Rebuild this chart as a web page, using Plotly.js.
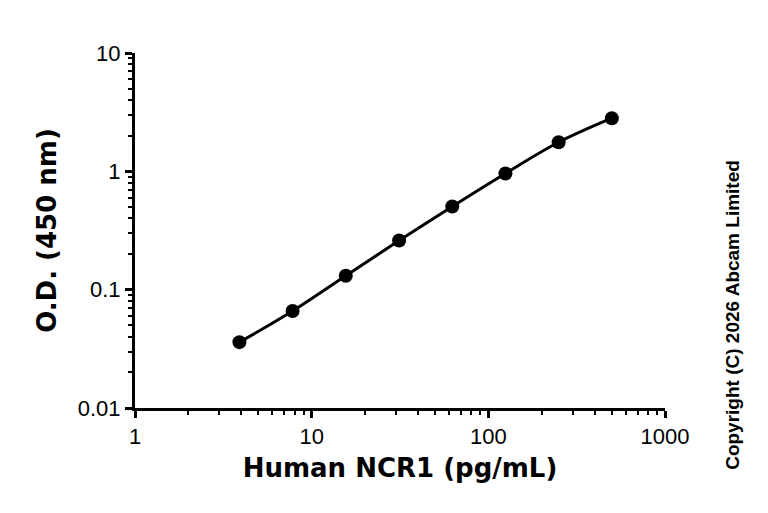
<!DOCTYPE html>
<html>
<head>
<meta charset="utf-8">
<script src="https://cdn.plot.ly/plotly-3.0.1.min.js"></script>
<style>
  body { margin: 0; background: white; }
  #chart { width: 768px; height: 513px; }
</style>
</head>
<body>
<div id="chart"></div>
<script>
var conc = [3.9, 7.8, 15.6, 31.25, 62.5, 125, 250, 500];
var od = [0.036, 0.066, 0.131, 0.26, 0.505, 0.96, 1.76, 2.81];
var xTicks = [1, 10, 100, 1000];
var yTicks = [0.01, 0.1, 1, 10];

var data = [{
  x: conc,
  y: od,
  type: 'scatter',
  mode: 'lines+markers',
  line: { color: 'black', width: 3, shape: 'spline' },
  marker: { color: 'black', size: 14 },
  cliponaxis: false
}];

var axisFont = { family: 'Liberation Sans, Arial', size: 22, color: 'black' };
var titleFont = { family: 'DejaVu Sans', size: 26, color: 'black', weight: 'bold' };

var layout = {
  width: 768,
  height: 513,
  margin: { l: 135, r: 103, t: 53, b: 105 },
  paper_bgcolor: 'white',
  plot_bgcolor: 'white',
  showlegend: false,
  xaxis: {
    type: 'log',
    range: [0, 3],
    tickvals: xTicks,
    ticktext: xTicks.map(String),
    ticks: 'outside',
    ticklen: 7,
    tickwidth: 3,
    tickcolor: 'black',
    showline: true,
    linewidth: 3,
    linecolor: 'black',
    showgrid: false,
    zeroline: false,
    tickfont: axisFont,
    minor: { ticks: 'outside', ticklen: 4, tickwidth: 2, tickcolor: 'black', dtick: 'D1', showgrid: false },
    title: { text: 'Human NCR1 (pg/mL)', font: titleFont, standoff: 11 }
  },
  yaxis: {
    type: 'log',
    range: [-2, 1],
    tickvals: yTicks,
    ticktext: ['0.01', '0.1', '1', '10'],
    ticks: 'outside',
    ticklen: 7,
    tickwidth: 3,
    tickcolor: 'black',
    showline: true,
    linewidth: 3,
    linecolor: 'black',
    showgrid: false,
    zeroline: false,
    tickfont: axisFont,
    minor: { ticks: 'outside', ticklen: 4, tickwidth: 2, tickcolor: 'black', dtick: 'D1', showgrid: false },
    title: { text: 'O.D. (450 nm)', font: titleFont, standoff: 14 }
  },
  annotations: [{
    text: 'Copyright (C) 2026 Abcam Limited',
    xref: 'paper', yref: 'paper',
    x: 1.128, y: 0.262,
    xanchor: 'center', yanchor: 'middle',
    showarrow: false,
    textangle: -90,
    font: { family: 'Liberation Sans, Arial', size: 19, color: 'black', weight: 'bold' }
  }]
};

Plotly.newPlot('chart', data, layout, { displayModeBar: false });
</script>
</body>
</html>
